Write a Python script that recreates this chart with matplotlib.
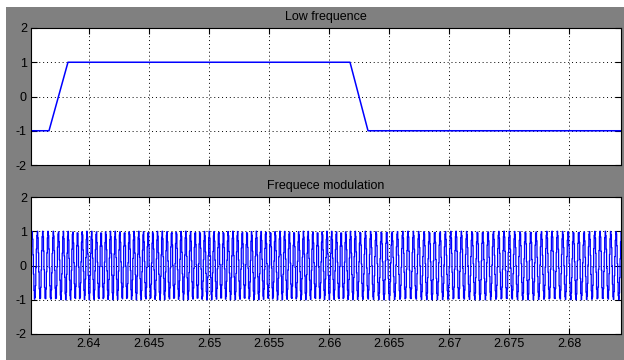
import numpy as np
import matplotlib
matplotlib.use("Agg")
import matplotlib.pyplot as plt
from matplotlib.patches import Rectangle

# ---- data ----
# modulating (low frequency) signal breakpoints: time (s), level
lf_time = [2.63517, 2.63667, 2.63825, 2.66175, 2.66325, 2.68433]
lf_value = [-1, -1, 1, 1, -1, -1]

# FM parameters
carrier_hz = 2400.0
deviation_hz = 150.0
sample_step = 4.0e-5

x_limits = [2.63517, 2.68433]
y_ticks = [-2, -1, 0, 1, 2]
x_ticks = [2.64, 2.645, 2.65, 2.655, 2.66, 2.665, 2.67, 2.675, 2.68]
x_tick_labels = ["2.64", "2.645", "2.65", "2.655", "2.66", "2.665", "2.67", "2.675", "2.68"]
titles = ["Low frequence", "Frequece modulation"]

# FM signal derived from the modulating breakpoints
t_fm = np.arange(x_limits[0], x_limits[1] + sample_step, sample_step)
m_fm = np.interp(t_fm, lf_time, lf_value)
phase = 2 * np.pi * np.cumsum(carrier_hz + deviation_hz * m_fm) * sample_step
fm_value = np.sin(phase)

# ---- figure ----
plt.rcParams['font.family'] = ['Liberation Sans', 'DejaVu Sans']
W, H = 624, 360
fig = plt.figure(figsize=(W / 100, H / 100), dpi=100, facecolor='white')
fig.patches.append(Rectangle((6 / W, 0), 1, (H - 7) / H, transform=fig.transFigure,
                             facecolor='#808080', edgecolor='none', zorder=-10))

left = 31 / W
width = 590 / W
ax_h = 137 / H
ax1 = fig.add_axes([left, (H - 165) / H, width, ax_h])
ax2 = fig.add_axes([left, (H - 334) / H, width, ax_h])

for ax, title in zip([ax1, ax2], titles):
    ax.set_facecolor('white')
    ax.set_xlim(x_limits)
    ax.set_ylim(-2, 2)
    ax.set_yticks(y_ticks)
    ax.set_yticklabels([str(v) for v in y_ticks])
    ax.set_xticks(x_ticks)
    ax.grid(True, color='black', linestyle=(0, (1, 3)), linewidth=0.7)
    ax.tick_params(direction='in', length=4, width=0.8, top=True, right=True,
                   labelsize=9, colors='black', pad=3)
    for s in ax.spines.values():
        s.set_linewidth(0.8)
        s.set_color('black')
    ax.set_title(title, fontsize=9, pad=6, color='black')

ax1.set_xticklabels([])
ax2.set_xticklabels(x_tick_labels)

ax1.plot(lf_time, lf_value, color='#0000ff', linewidth=1.1)
ax2.plot(t_fm, fm_value, color='#0000ff', linewidth=0.9, drawstyle='steps-post')

fig.savefig("out.png", dpi=100, facecolor=fig.get_facecolor())
